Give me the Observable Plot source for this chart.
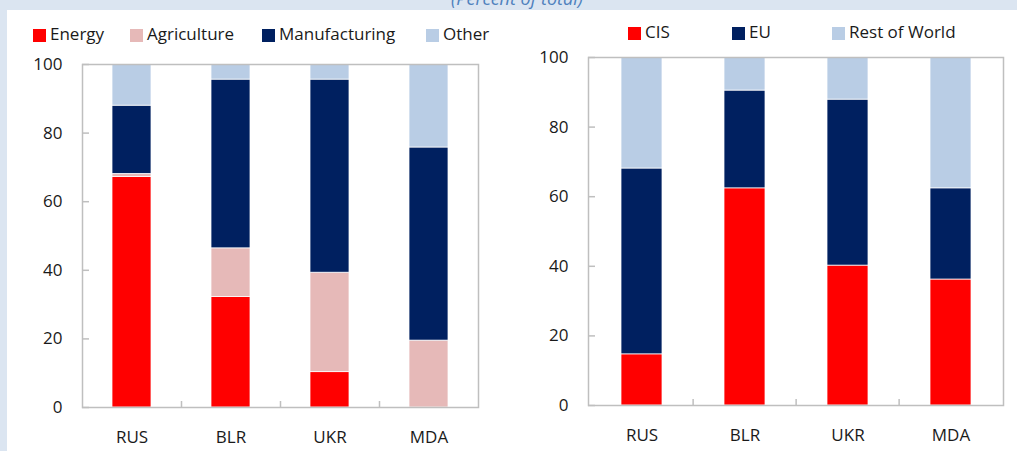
<!DOCTYPE html>
<html><head><meta charset="utf-8">
<script src="https://cdn.jsdelivr.net/npm/d3@7"></script>
<script src="https://cdn.jsdelivr.net/npm/@observablehq/plot@0.6"></script>
<style>
body{margin:0;width:1017px;height:451px;overflow:hidden;background:#dbe5f1;position:relative;font-family:"Open Sans",sans-serif;}
#panel{position:absolute;left:7px;top:10px;right:0;bottom:0;background:#fff;}
.abs{position:absolute;top:0;}
#title{position:absolute;left:0;width:1034px;top:-11px;text-align:center;font-size:18px;line-height:18px;font-style:italic;color:#4f81bd;white-space:nowrap;}
.sw{position:absolute;width:13px;height:13px;}
.lt{position:absolute;font-size:17px;line-height:17px;color:#1a1a1a;white-space:nowrap;}
</style></head><body>
<div id="panel"></div>
<div id="title">(Percent of total)</div>
<div id="c1" class="abs" style="left:0px"></div>
<div id="c2" class="abs" style="left:500px"></div>
<div id="legends"></div>
<script>
// ---- data ----
const categories = ["RUS", "BLR", "UKR", "MDA"];
const yTicks = [0, 20, 40, 60, 80, 100];

const sectorNames = ["Energy", "Agriculture", "Manufacturing", "Other"];
const sectorColors = ["#ff0000", "#e6b9b8", "#002060", "#b9cde5"];
const energy = [67.2, 32.2, 10.3, 0];
const agriculture = [0.9, 14.2, 29.0, 19.5];
const manufacturing = [19.9, 49.2, 56.3, 56.3];
const other = [12.0, 4.4, 4.4, 24.2];

const regionNames = ["CIS", "EU", "Rest of World"];
const regionColors = ["#ff0000", "#002060", "#b9cde5"];
const cis = [14.7, 62.4, 40.2, 36.2];
const eu = [53.4, 28.1, 47.7, 26.2];
const restOfWorld = [31.9, 9.5, 12.1, 37.6];

// ---- chart builder ----
function chart(names, colors, values, m, pad) {
  const data = [];
  names.forEach((s, i) => categories.forEach((c, j) => data.push({country: c, series: s, value: values[i][j]})));
  const H = 451;
  const pw = m.width - m.left - m.right, ph = H - m.top - m.bottom;
  const step = pw / categories.length;
  return Plot.plot({
    width: m.width, height: H,
    marginLeft: m.left, marginRight: m.right, marginTop: m.top, marginBottom: m.bottom,
    style: {background: "transparent", fontFamily: "'Open Sans', sans-serif", fontSize: "17px", color: "#1a1a1a", overflow: "visible"},
    x: {domain: categories, paddingInner: pad, paddingOuter: pad / 2, label: null},
    y: {domain: [0, 100], label: null},
    color: {domain: names, range: colors},
    marks: [
      Plot.barY(data, {x: "country", y: "value", fill: "series", stroke: "white", strokeWidth: 0.75}),
      Plot.frame({stroke: "#bfbfbf", strokeWidth: 1.5}),
      Plot.tickY(yTicks, {y: d => d, stroke: "#bfbfbf", strokeWidth: 1.5, insetRight: pw - 7}),
      Plot.tickX(categories.slice(1), {x: d => d, dx: -step / 2, stroke: "#bfbfbf", strokeWidth: 1.5, insetTop: ph - 6}),
      Plot.axisY(yTicks, {tickSize: 0, tickPadding: 20, fontSize: 17}),
      Plot.axisX({tickSize: 0, tickPadding: 23, fontSize: 17})
    ]
  });
}

document.getElementById("c1").append(
  chart(sectorNames, sectorColors, [energy, agriculture, manufacturing, other],
        {width: 500, left: 82, right: 22, top: 64, bottom: 44}, 0.61));
document.getElementById("c2").append(
  chart(regionNames, regionColors, [cis, eu, restOfWorld],
        {width: 517, left: 88, right: 14, top: 57, bottom: 46}, 0.605));

// ---- legends ----
const leg = document.getElementById("legends");
function legend(names, colors, lefts, sqTop, textTop) {
  names.forEach((n, i) => {
    const s = document.createElement("div");
    s.className = "sw";
    s.style.left = lefts[i] + "px"; s.style.top = sqTop + "px"; s.style.background = colors[i];
    const t = document.createElement("div");
    t.className = "lt";
    t.style.left = (lefts[i] + 17) + "px"; t.style.top = textTop + "px";
    t.textContent = n;
    leg.append(s, t);
  });
}
legend(sectorNames, sectorColors, [33, 130, 262, 426], 29, 25);
legend(regionNames, regionColors, [628, 732, 832], 27, 23);
</script>
</body></html>
